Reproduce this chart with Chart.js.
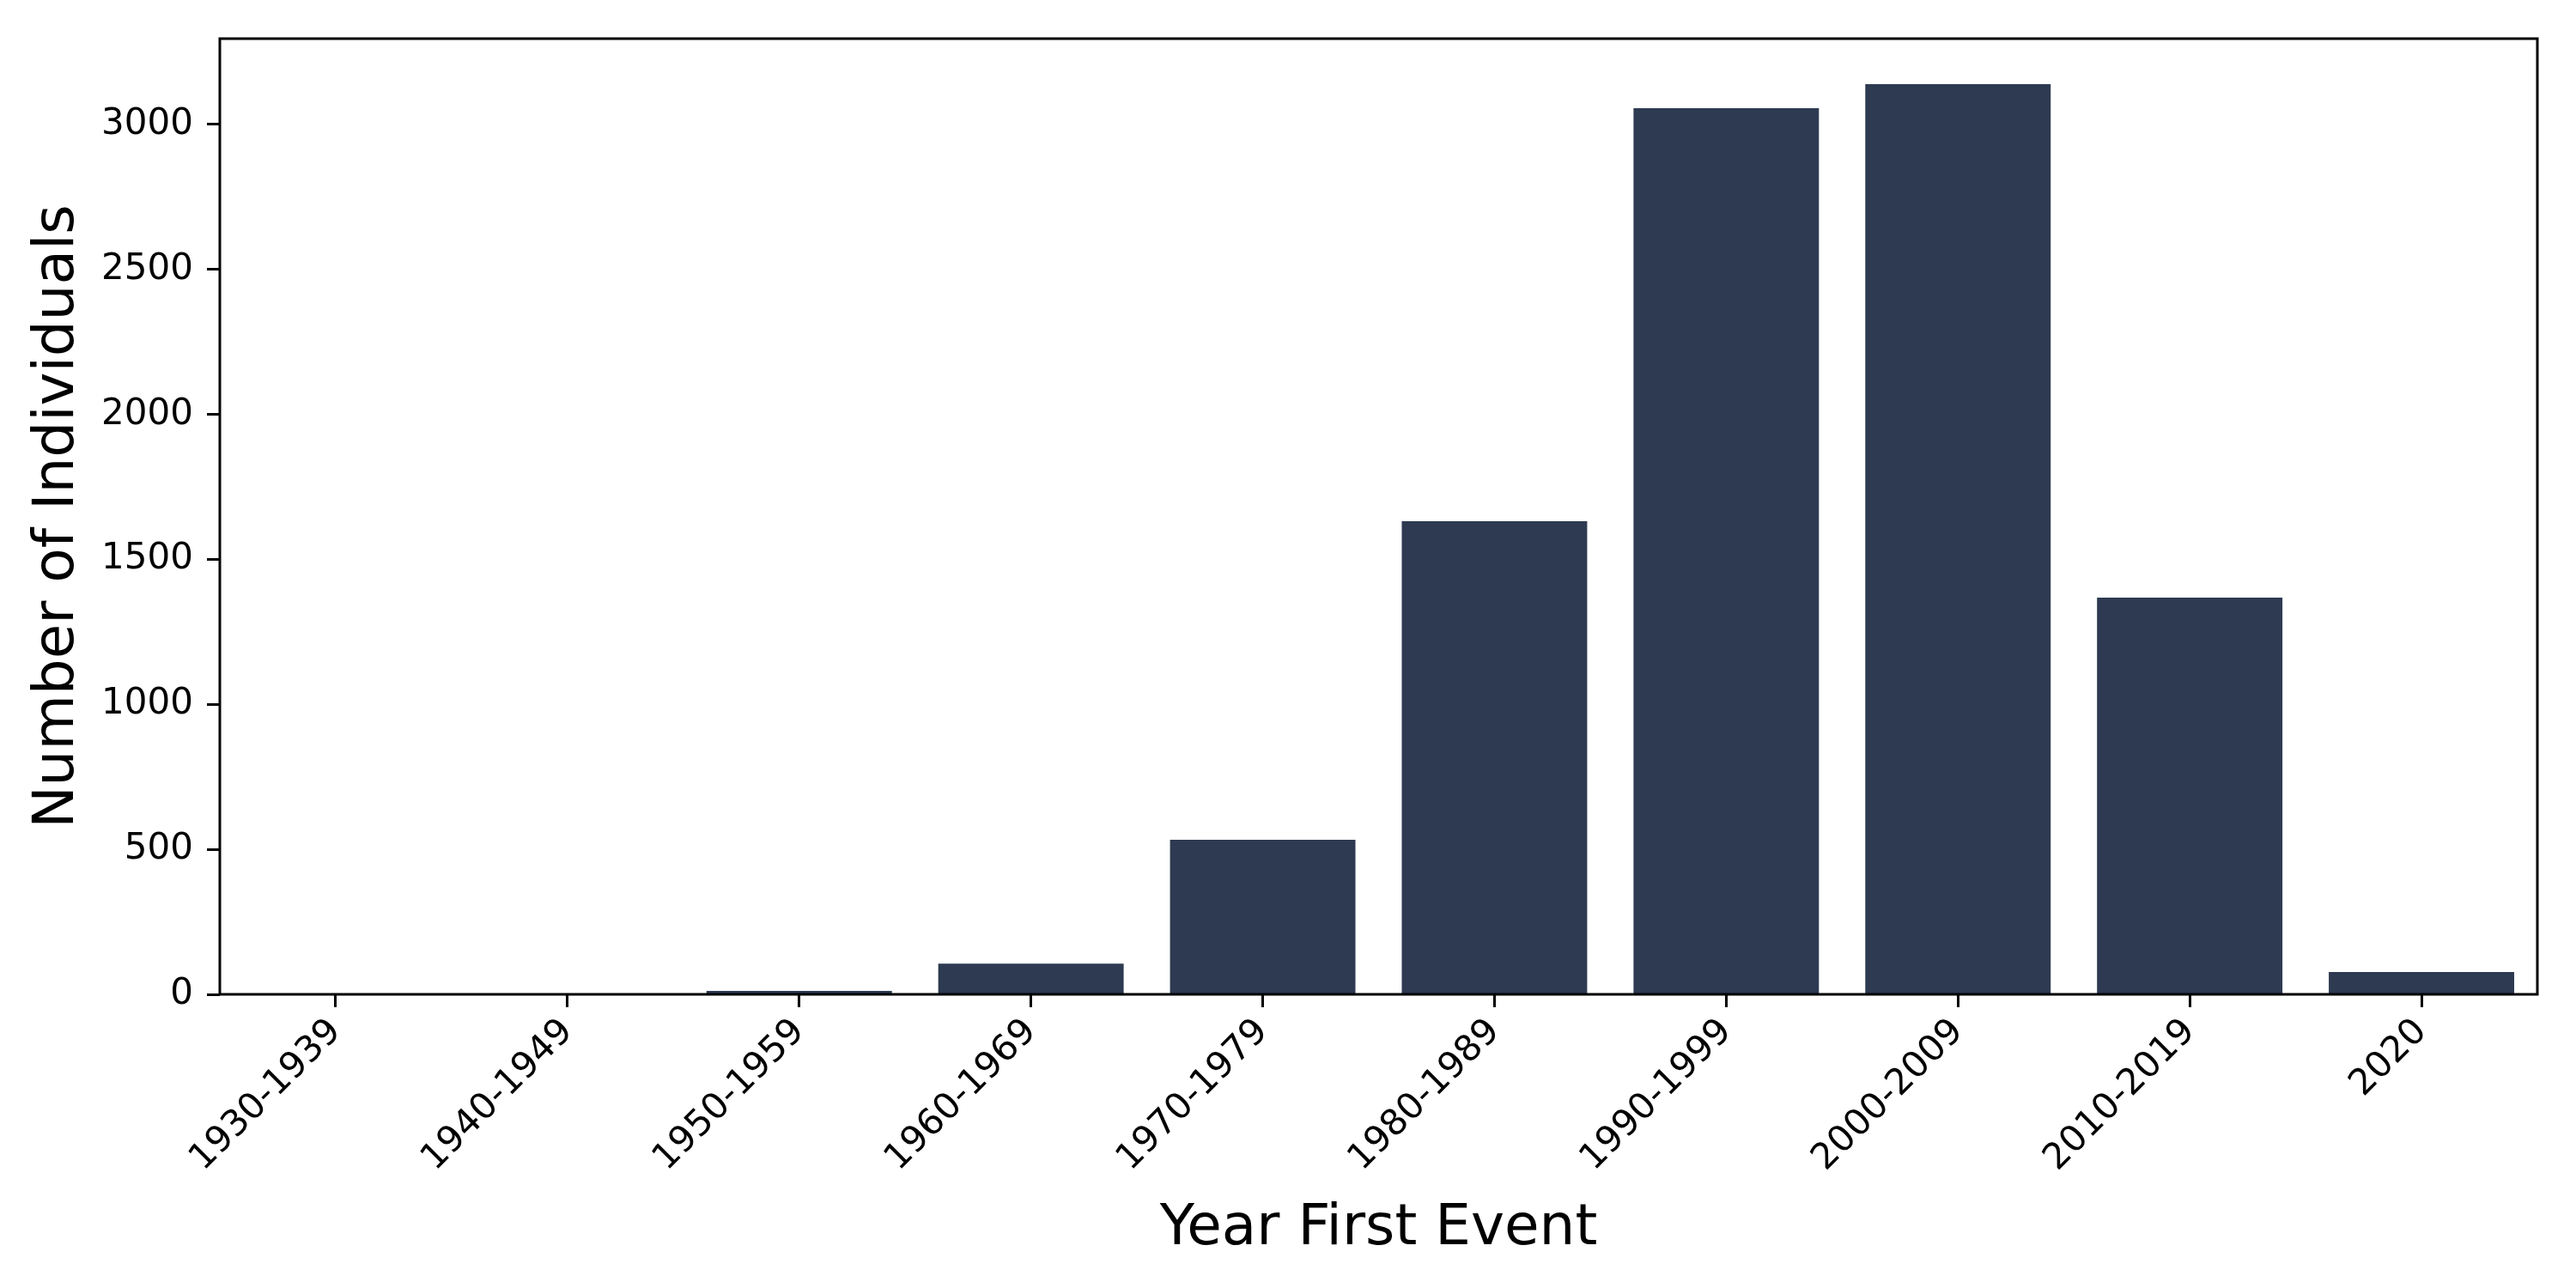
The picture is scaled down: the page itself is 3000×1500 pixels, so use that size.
<!DOCTYPE html>
<html>
<head>
<meta charset="utf-8">
<script src="https://cdn.jsdelivr.net/npm/chart.js@4.4.0/dist/chart.umd.min.js"></script>
<style>
  html, body { margin: 0; padding: 0; background: #fff; }
  #wrap { width: 3000px; height: 1500px; }
</style>
</head>
<body>
<div id="wrap"><canvas id="chart" width="3000" height="1500"></canvas></div>
<script>
const decades = ['1930-1939', '1940-1949', '1950-1959', '1960-1969', '1970-1979',
                 '1980-1989', '1990-1999', '2000-2009', '2010-2019', '2020'];
const individuals = [1, 2, 12, 106, 533, 1632, 3056, 3139, 1368, 77];
const yTicks = [0, 500, 1000, 1500, 2000, 2500, 3000];
const yMax = 3296;

// frame around the plot area (matplotlib spines)
const framePlugin = {
    id: 'frame',
    afterDraw(chart) {
        const a = chart.chartArea;
        const ctx = chart.ctx;
        ctx.save();
        ctx.strokeStyle = '#000';
        ctx.lineWidth = 3;
        ctx.strokeRect(a.left, a.top, a.right - a.left, a.bottom - a.top);
        ctx.restore();
    }
};

const ctx = document.getElementById('chart').getContext('2d');
new Chart(ctx, {
    type: 'bar',
    data: {
        labels: decades,
        datasets: [{
            label: 'Number of Individuals',
            data: individuals,
            backgroundColor: '#2d3a51',
            borderWidth: 0,
            barPercentage: 0.8,
            categoryPercentage: 1.0
        }]
    },
    options: {
        responsive: false,
        animation: false,
        devicePixelRatio: 1,
        layout: { padding: { top: 45, right: 45, left: 0, bottom: 0 } },
        plugins: {
            legend: { display: false },
            tooltip: { enabled: false }
        },
        scales: {
            x: {
                offset: true,
                grid: {
                    offset: false,
                    drawOnChartArea: false,
                    drawTicks: true,
                    tickLength: 15,
                    tickWidth: 3,
                    tickColor: '#000'
                },
                border: { display: false },
                ticks: {
                    autoSkip: false,
                    minRotation: 45,
                    maxRotation: 45,
                    padding: 4,
                    color: '#000',
                    font: { family: 'DejaVu Sans', size: 42 }
                },
                title: {
                    display: true,
                    text: 'Year First Event',
                    color: '#000',
                    font: { family: 'DejaVu Sans', size: 66 },
                    padding: { top: 0, bottom: 29 }
                },
                afterFit(scale) { scale.height = 342; }
            },
            y: {
                min: 0,
                max: yMax,
                afterBuildTicks(scale) {
                    scale.ticks = yTicks.map(v => ({ value: v }));
                },
                grid: {
                    drawOnChartArea: false,
                    drawTicks: true,
                    tickLength: 15,
                    tickWidth: 3,
                    tickColor: '#000'
                },
                border: { display: false },
                ticks: {
                    padding: 16,
                    color: '#000',
                    font: { family: 'DejaVu Sans', size: 42 },
                    callback: v => String(v)
                },
                title: {
                    display: true,
                    text: 'Number of Individuals',
                    color: '#000',
                    font: { family: 'DejaVu Sans', size: 66 },
                    padding: { top: 28, bottom: 0 }
                },
                afterFit(scale) { scale.width = 256; }
            }
        }
    },
    plugins: [framePlugin]
});
</script>
</body>
</html>
